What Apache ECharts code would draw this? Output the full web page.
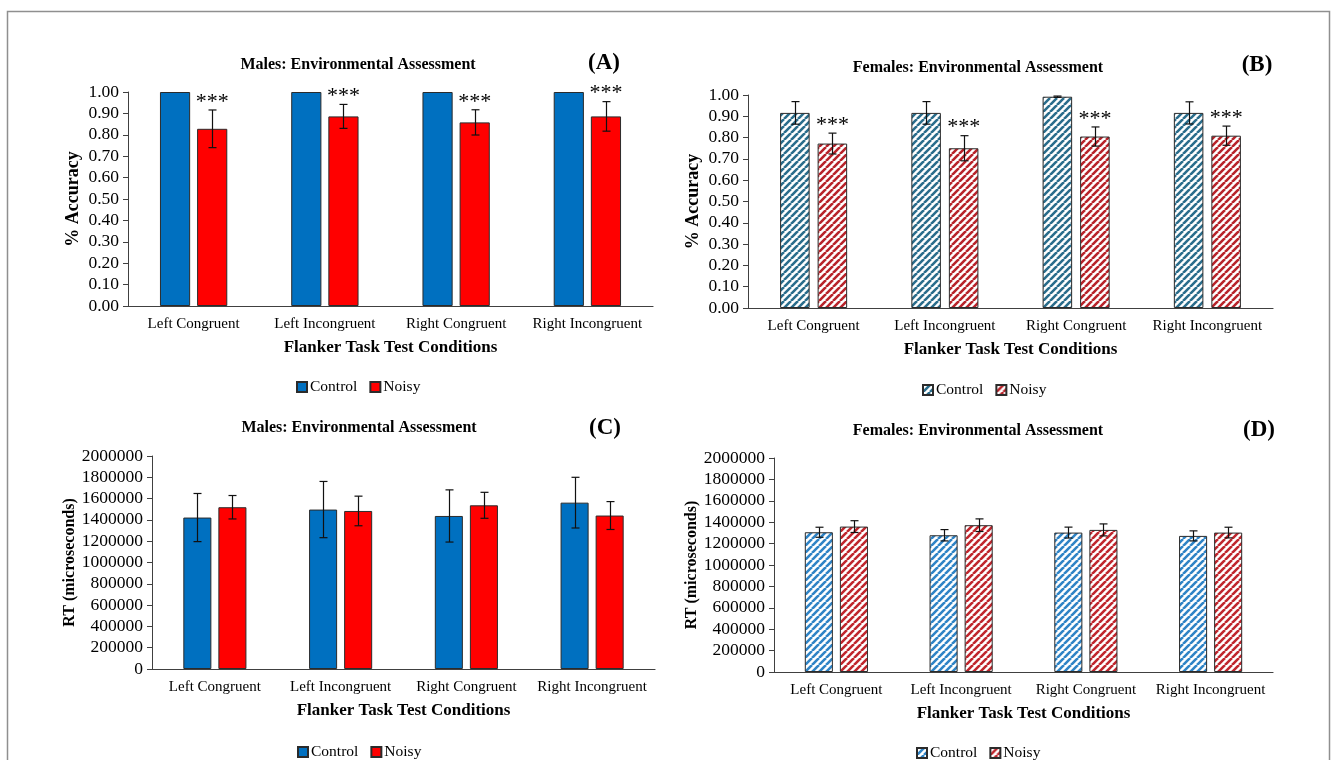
<!DOCTYPE html>
<html><head><meta charset="utf-8">
<script src="https://cdn.jsdelivr.net/npm/echarts@6/dist/echarts.min.js"></script>
<style>html,body{margin:0;padding:0;background:#fff}#c{width:1331px;height:760px}</style>
</head><body><div id="c"></div>
<script>
// ---------- DATA ----------
const categories = ['Left Congruent', 'Left Incongruent', 'Right Congruent', 'Right Incongruent'];
const groupNames = ['Control', 'Noisy'];
const accTicks = { min: 0, max: 1, interval: 0.1 };
const rtTicks = { min: 0, max: 2000000, interval: 200000 };

// (A) Males accuracy
const maleAccControl = [1.00, 1.00, 1.00, 1.00];
const maleAccControlErr = [0, 0, 0, 0];
const maleAccNoisy = [0.828, 0.886, 0.858, 0.886];
const maleAccNoisyErr = [0.088, 0.056, 0.059, 0.069];
const maleAccStars = ['***', '***', '***', '***'];

// (B) Females accuracy
const femaleAccControl = [0.916, 0.916, 0.992, 0.916];
const femaleAccControlErr = [0.053, 0.053, 0.003, 0.052];
const femaleAccNoisy = [0.772, 0.750, 0.805, 0.809];
const femaleAccNoisyErr = [0.049, 0.059, 0.045, 0.045];
const femaleAccStars = ['***', '***', '***', '***'];

// (C) Males RT
const maleRtControl = [1422000, 1497000, 1437000, 1562000];
const maleRtControlErr = [226000, 264000, 245000, 238000];
const maleRtNoisy = [1519000, 1484000, 1537000, 1441000];
const maleRtNoisyErr = [110000, 139000, 122000, 131000];

// (D) Females RT
const femaleRtControl = [1306000, 1278000, 1303000, 1272000];
const femaleRtControlErr = [47000, 53000, 51000, 47000];
const femaleRtNoisy = [1359000, 1372000, 1328000, 1303000];
const femaleRtNoisyErr = [55000, 59000, 56000, 50000];

// ---------- STYLE ----------
const FONT = '"Liberation Serif", "Times New Roman", serif';
const AXIS_COLOR = '#404040';

function hatch(color) {
  const s = 7;
  const c = document.createElement('canvas');
  c.width = s; c.height = s;
  const g = c.getContext('2d');
  g.fillStyle = '#fff'; g.fillRect(0, 0, s, s);
  g.strokeStyle = color; g.lineWidth = 2.6;
  g.beginPath();
  for (const k of [-s, 0, s]) { g.moveTo(k, s); g.lineTo(k + s, 0); }
  g.stroke();
  return { image: c, repeat: 'repeat' };
}

const panels = [
  { key: 'A', title: 'Males: Environmental Assessment', tag: '(A)', grid: { left: 128, top: 92, width: 525, height: 214 },
    titleX: 358, titleY: 65, tagX: 604, tagY: 63, ctrl: maleAccControl, ctrlErr: maleAccControlErr, noisy: maleAccNoisy, noisyErr: maleAccNoisyErr,
    stars: maleAccStars, ticks: accTicks, yName: '% Accuracy', yNameGap: 46, yNameSize: 18, dec: 2,
    ctrlColor: '#0070C0', noisyColor: '#FF0000', barW: 0.23, gap: 0.23, legendLeft: 291, legendTop: 374 },
  { key: 'B', title: 'Females: Environmental Assessment', tag: '(B)', grid: { left: 748, top: 95, width: 525, height: 213 },
    titleX: 978, titleY: 68, tagX: 1257, tagY: 65, ctrl: femaleAccControl, ctrlErr: femaleAccControlErr, noisy: femaleAccNoisy, noisyErr: femaleAccNoisyErr,
    stars: femaleAccStars, ticks: accTicks, yName: '% Accuracy', yNameGap: 46, yNameSize: 18, dec: 2,
    ctrlColor: hatch('#2A6D8C'), noisyColor: hatch('#B8232A'), barW: 0.225, gap: 0.27, legendLeft: 917, legendTop: 377 },
  { key: 'C', title: 'Males: Environmental Assessment', tag: '(C)', grid: { left: 152, top: 456, width: 503, height: 213 },
    titleX: 359, titleY: 428, tagX: 605, tagY: 428, ctrl: maleRtControl, ctrlErr: maleRtControlErr, noisy: maleRtNoisy, noisyErr: maleRtNoisyErr,
    stars: null, ticks: rtTicks, yName: 'RT (microseconds)', yNameGap: 70, yNameSize: 16, dec: 0,
    ctrlColor: '#0070C0', noisyColor: '#FF0000', barW: 0.223, gap: 0.25, legendLeft: 292, legendTop: 739 },
  { key: 'D', title: 'Females: Environmental Assessment', tag: '(D)', grid: { left: 774, top: 458, width: 499, height: 214 },
    titleX: 978, titleY: 431, tagX: 1259, tagY: 430, ctrl: femaleRtControl, ctrlErr: femaleRtControlErr, noisy: femaleRtNoisy, noisyErr: femaleRtNoisyErr,
    stars: null, ticks: rtTicks, yName: 'RT (microseconds)', yNameGap: 72, yNameSize: 16, dec: 0,
    ctrlColor: hatch('#2F84C6'), noisyColor: hatch('#C0262D'), barW: 0.225, gap: 0.25, legendLeft: 911, legendTop: 740 }
];

const option = { animation: false, backgroundColor: '#fff', grid: [], xAxis: [], yAxis: [], series: [], legend: [], graphic: [] };

option.graphic.push({ type: 'rect', silent: true, shape: { x: 7.5, y: 11.5, width: 1322, height: 800 },
  style: { fill: 'none', stroke: '#8f8f8f', lineWidth: 1.5 } });

panels.forEach((p, gi) => {
  option.grid.push(Object.assign({}, p.grid));
  option.xAxis.push({
    type: 'category', gridIndex: gi, data: categories,
    axisLine: { lineStyle: { color: AXIS_COLOR, width: 1.2 } },
    axisTick: { length: 5, lineStyle: { color: AXIS_COLOR } },
    axisLabel: { color: '#000', fontFamily: FONT, fontSize: 15, margin: 11, interval: 0 },
    name: 'Flanker Task Test Conditions', nameLocation: 'middle', nameGap: 33,
    nameTextStyle: { color: '#000', fontFamily: FONT, fontSize: 17, fontWeight: 'bold' }
  });
  option.yAxis.push({
    type: 'value', gridIndex: gi, min: p.ticks.min, max: p.ticks.max, interval: p.ticks.interval,
    splitLine: { show: false },
    axisLine: { show: true, lineStyle: { color: AXIS_COLOR, width: 1 } },
    axisTick: { show: true, length: 5, lineStyle: { color: AXIS_COLOR } },
    axisLabel: { color: '#000', fontFamily: FONT, fontSize: 17.5, margin: 9,
      formatter: v => p.dec ? v.toFixed(p.dec) : String(Math.round(v)) },
    name: p.yName, nameLocation: 'middle', nameGap: p.yNameGap, nameRotate: 90,
    nameTextStyle: { color: '#000', fontFamily: FONT, fontSize: p.yNameSize, fontWeight: 'bold' }
  });
  const cName = groupNames[0] + ' ' + p.key, nName = groupNames[1] + ' ' + p.key;
  const barCommon = { type: 'bar', xAxisIndex: gi, yAxisIndex: gi, barWidth: (p.barW * 100) + '%', barGap: (p.gap * 100) + '%' };
  option.series.push(Object.assign({}, barCommon, { name: cName, data: p.ctrl,
    itemStyle: { color: p.ctrlColor, borderColor: '#2b2b2b', borderWidth: 1 } }));
  option.series.push(Object.assign({}, barCommon, { name: nName, data: p.noisy,
    itemStyle: { color: p.noisyColor, borderColor: '#2b2b2b', borderWidth: 1 } }));

  const errData = categories.map((c, i) => [i, p.ctrl[i] - p.ctrlErr[i], p.ctrl[i] + p.ctrlErr[i], p.noisy[i] - p.noisyErr[i], p.noisy[i] + p.noisyErr[i]]);
  option.series.push({
    type: 'custom', xAxisIndex: gi, yAxisIndex: gi, silent: true, z: 10, data: errData,
    encode: { x: 0, y: [1, 2, 3, 4] },
    renderItem(params, api) {
      const i = api.value(0);
      const band = api.size([1, 0])[0];
      const w = band * p.barW;
      const off = w * (1 + p.gap) / 2;
      const cx = api.coord([i, 0])[0];
      const children = [];
      [[-off, 1, 2], [off, 3, 4]].forEach(([dx, lo, hi]) => {
        const vlo = api.value(lo), vhi = api.value(hi);
        if (vhi - vlo <= 0) return;
        const x = Math.round(cx + dx) + 0.5;
        const y1 = api.coord([i, vlo])[1], y2 = api.coord([i, vhi])[1];
        const cap = 4, st = { stroke: '#111', lineWidth: 1.2 };
        children.push({ type: 'line', shape: { x1: x, y1: y1, x2: x, y2: y2 }, style: st });
        children.push({ type: 'line', shape: { x1: x - cap, y1: y1, x2: x + cap, y2: y1 }, style: st });
        children.push({ type: 'line', shape: { x1: x - cap, y1: y2, x2: x + cap, y2: y2 }, style: st });
      });
      if (p.stars) {
        const y = api.coord([i, api.value(4)])[1];
        children.push({ type: 'text', x: cx + off, y: y + 3,
          style: { text: p.stars[i], textAlign: 'center', textVerticalAlign: 'bottom', font: '22px ' + FONT, fill: '#000' } });
      }
      return { type: 'group', children };
    }
  });

  option.legend.push({
    data: [cName, nName], left: p.legendLeft, top: p.legendTop, selectedMode: false,
    icon: 'rect', itemWidth: 10, itemHeight: 10, itemGap: 12,
    formatter: n => n.split(' ')[0],
    textStyle: { color: '#000', fontFamily: FONT, fontSize: 15.5, padding: [0, 0, 0, -2] }
  });

  option.graphic.push({ type: 'text', silent: true, x: p.titleX, y: p.titleY,
    style: { text: p.title, textAlign: 'center', textVerticalAlign: 'middle', font: 'bold 16px ' + FONT, fill: '#000' } });
  option.graphic.push({ type: 'text', silent: true, x: p.tagX, y: p.tagY,
    style: { text: p.tag, textAlign: 'center', textVerticalAlign: 'middle', font: 'bold 23px ' + FONT, fill: '#000' } });
});

const chart = echarts.init(document.getElementById('c'), null, { renderer: 'canvas' });
chart.setOption(option);
</script>
</body></html>
